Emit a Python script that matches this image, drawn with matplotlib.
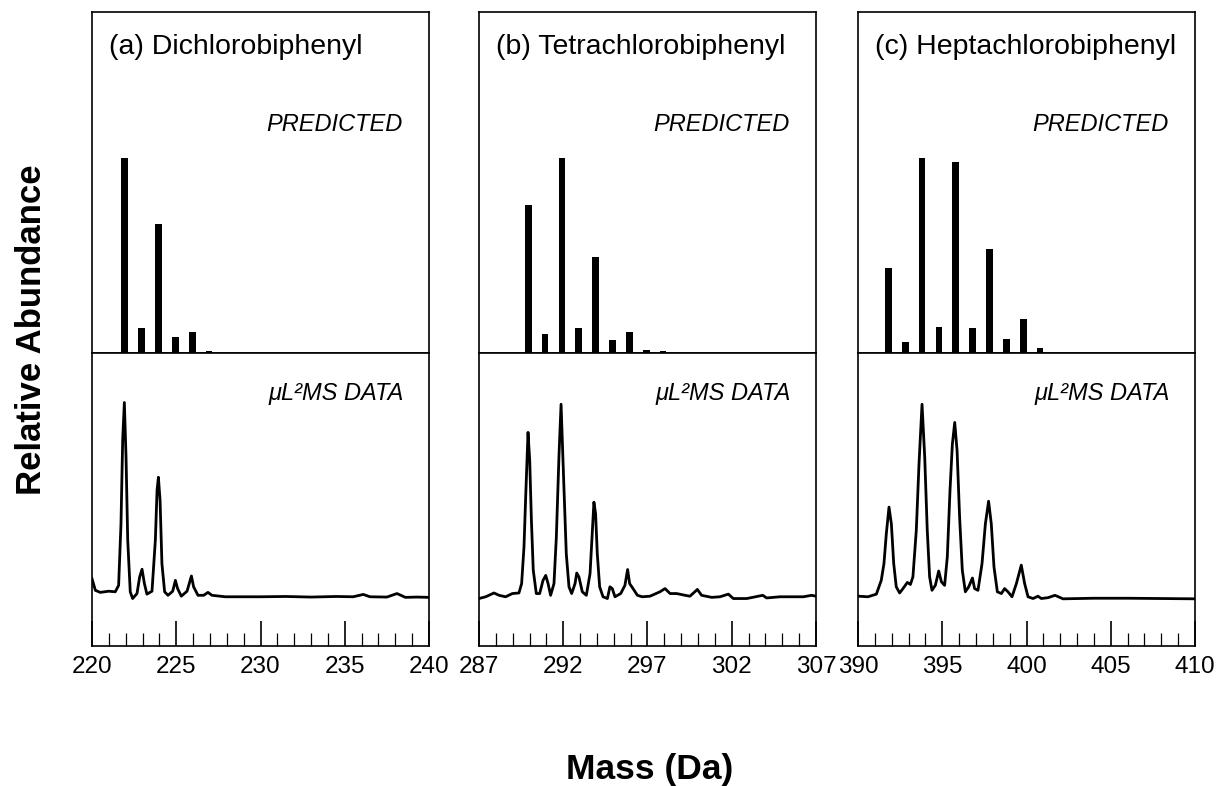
import numpy as np
import matplotlib
matplotlib.use("Agg")
import matplotlib.pyplot as plt
from matplotlib.ticker import MultipleLocator

plt.rcParams['font.family'] = ['Liberation Sans', 'DejaVu Sans']

# panel titles and mass ranges
titles = ['(a) Dichlorobiphenyl', '(b) Tetrachlorobiphenyl', '(c) Heptachlorobiphenyl']
mass_start = [220, 287, 390]
mass_end = [240, 307, 410]

# predicted isotope patterns (mass, relative abundance %)
pred_a_mass = [221.95, 222.95, 223.95, 224.95, 225.95, 226.95]
pred_a_abund = [100, 12.9, 66, 8.2, 10.8, 1.2]
pred_b_mass = [289.92, 290.92, 291.92, 292.92, 293.92, 294.92, 295.92, 296.92, 297.92]
pred_b_abund = [75.8, 9.8, 100, 12.9, 49.5, 6.7, 10.8, 1.5, 1.0]
pred_c_mass = [391.8, 392.8, 393.8, 394.8, 395.8, 396.8, 397.8, 398.8, 399.8, 400.8]
pred_c_abund = [43.6, 5.6, 100, 13.3, 98, 12.8, 53.3, 7.2, 17.4, 2.6]

data_a_mass = [220.00, 220.20, 220.49, 220.99, 221.38, 221.58, 221.72, 221.82, 221.92, 222.02,
               222.12, 222.27, 222.41, 222.67, 222.83, 222.97, 223.11, 223.26, 223.56, 223.76,
               223.86, 223.94, 224.04, 224.15, 224.31, 224.51, 224.79, 224.95, 225.08, 225.30,
               225.64, 225.90, 226.03, 226.29, 226.63, 226.88, 227.12, 227.91, 228.90, 230.0,
               231.5, 233.0, 234.5, 235.5, 236.1, 236.5, 237.5, 238.1, 238.6, 239.3, 240.0]
data_a_sig = [23.0, 19.0, 18.3, 18.7, 18.5, 20.7, 41.7, 70.1, 83.1, 64.4,
              36.1, 18.5, 16.2, 17.9, 23.6, 26.2, 21.3, 17.7, 18.7, 36.1,
              53.1, 57.6, 49.7, 28.1, 18.5, 17.3, 18.7, 22.4, 19.6, 17.0,
              18.7, 23.9, 20.2, 17.3, 17.3, 18.3, 17.3, 16.8, 16.8, 16.8,
              16.9, 16.7, 16.9, 16.8, 17.6, 16.8, 16.7, 17.9, 16.6, 16.7, 16.6]

data_b_mass = [287.00, 287.40, 287.89, 288.19, 288.58, 288.98, 289.37, 289.53, 289.67, 289.77,
               289.91, 290.01, 290.11, 290.22, 290.40, 290.60, 290.80, 290.96, 291.10, 291.25,
               291.45, 291.59, 291.75, 291.87, 292.04, 292.18, 292.34, 292.50, 292.70, 292.80,
               292.93, 293.13, 293.37, 293.59, 293.73, 293.82, 293.92, 294.02, 294.16, 294.36,
               294.62, 294.77, 294.91, 295.07, 295.41, 295.66, 295.82, 295.94, 296.14, 296.40,
               296.69, 297.15, 297.74, 298.04, 298.34, 298.73, 299.23, 299.52, 299.96, 300.21,
               300.81, 301.30, 301.80, 302.09, 302.89, 303.84, 304.07, 304.86, 305.65, 306.25,
               306.74, 307.0]
data_b_sig = [16.2, 16.8, 18.1, 17.3, 16.8, 17.9, 18.1, 21.3, 33.8, 50.8,
              72.9, 63.3, 42.9, 25.9, 17.9, 17.9, 22.4, 24.1, 21.3, 17.3,
              21.3, 37.2, 65.5, 82.5, 54.2, 31.5, 20.2, 17.9, 21.3, 24.9,
              23.6, 18.5, 17.3, 24.7, 39.5, 49.1, 45.1, 31.5, 20.2, 16.8,
              16.2, 20.2, 19.6, 16.8, 17.9, 20.7, 26.1, 21.3, 19.6, 17.3,
              16.8, 17.0, 18.5, 19.6, 17.9, 17.9, 17.3, 17.0, 19.3, 17.3,
              16.6, 16.8, 17.7, 16.2, 16.2, 17.3, 16.4, 16.8, 16.8, 16.8,
              17.3, 17.0]

data_c_mass = [390.00, 390.59, 391.09, 391.38, 391.54, 391.68, 391.84, 391.98, 392.12, 392.27,
               392.47, 392.67, 392.93, 393.11, 393.26, 393.46, 393.62, 393.80, 393.96, 394.11,
               394.25, 394.39, 394.59, 394.79, 394.95, 395.14, 395.30, 395.46, 395.60, 395.74,
               395.88, 396.03, 396.19, 396.37, 396.57, 396.79, 396.92, 397.12, 397.36, 397.56,
               397.75, 397.91, 398.07, 398.27, 398.51, 398.70, 398.90, 399.14, 399.40, 399.69,
               399.89, 400.09, 400.39, 400.68, 400.88, 401.28, 401.69, 402.17, 404.0, 406.0,
               408.0, 410.0]
data_c_sig = [17.0, 16.8, 17.7, 22.4, 28.1, 38.3, 47.4, 41.7, 28.1, 20.2,
              18.1, 19.6, 21.7, 21.0, 23.6, 39.5, 62.1, 82.5, 64.4, 39.5,
              23.6, 19.0, 20.7, 25.6, 21.9, 20.7, 30.4, 53.1, 68.9, 76.3,
              66.7, 44.0, 25.9, 18.5, 20.2, 23.2, 19.6, 19.0, 28.1, 41.7,
              49.4, 41.7, 27.0, 18.5, 17.9, 19.6, 18.5, 16.8, 21.3, 27.6,
              21.3, 16.8, 16.2, 17.0, 16.2, 16.5, 17.3, 16.1, 16.3, 16.3,
              16.2, 16.1]

pred_mass = [pred_a_mass, pred_b_mass, pred_c_mass]
pred_abund = [pred_a_abund, pred_b_abund, pred_c_abund]
data_mass = [data_a_mass, data_b_mass, data_c_mass]
data_sig = [data_a_sig, data_b_sig, data_c_sig]

W, H = 1218, 786
fig = plt.figure(figsize=(W / 100, H / 100), dpi=100)

lefts = [92, 479, 858]
pw = 337
top_px, mid_px, bot_px = 12, 353, 646

for i in range(3):
    x0 = lefts[i] / W
    w = pw / W
    ax_top = fig.add_axes([x0, 1 - mid_px / H, w, (mid_px - top_px) / H])
    ax_bot = fig.add_axes([x0, 1 - bot_px / H, w, (bot_px - mid_px) / H])

    # predicted bars
    ax_top.bar(pred_mass[i], pred_abund[i], width=0.4, color='black')
    ax_top.set_xlim(mass_start[i], mass_end[i])
    ax_top.set_ylim(0, 175)
    ax_top.set_xticks([])
    ax_top.set_yticks([])
    ax_top.text(0.05, 0.897, titles[i], transform=ax_top.transAxes,
                fontsize=20.5, ha='left', va='center')
    ax_top.text(0.92, 0.669, 'PREDICTED', transform=ax_top.transAxes,
                fontsize=17, style='italic', ha='right', va='center')

    # measured data
    ax_bot.plot(data_mass[i], data_sig[i], color='black', lw=2.0)
    ax_bot.set_xlim(mass_start[i], mass_end[i])
    ax_bot.set_ylim(0, 100)
    ax_bot.set_yticks([])
    ax_bot.xaxis.set_major_locator(MultipleLocator(5, offset=mass_start[i] % 5))
    ax_bot.xaxis.set_minor_locator(MultipleLocator(1))
    ax_bot.tick_params(axis='x', which='major', direction='in', length=18, width=1.2,
                       labelsize=17.5, pad=7)
    ax_bot.tick_params(axis='x', which='minor', direction='in', length=9.5, width=0.9)
    ax_bot.text(0.925, 0.863, 'μL²MS DATA', transform=ax_bot.transAxes,
                fontsize=17, style='italic', ha='right', va='center')

    for ax in (ax_top, ax_bot):
        for s in ax.spines.values():
            s.set_linewidth(1.2)

fig.text(32 / W, 1 - 330 / H, 'Relative Abundance', rotation=90, fontsize=25,
         fontweight='bold', ha='center', va='center')
fig.text(650 / W, 1 - 770 / H, 'Mass (Da)', fontsize=25.5, fontweight='bold',
         ha='center', va='center')

fig.savefig('out.png', dpi=100)
